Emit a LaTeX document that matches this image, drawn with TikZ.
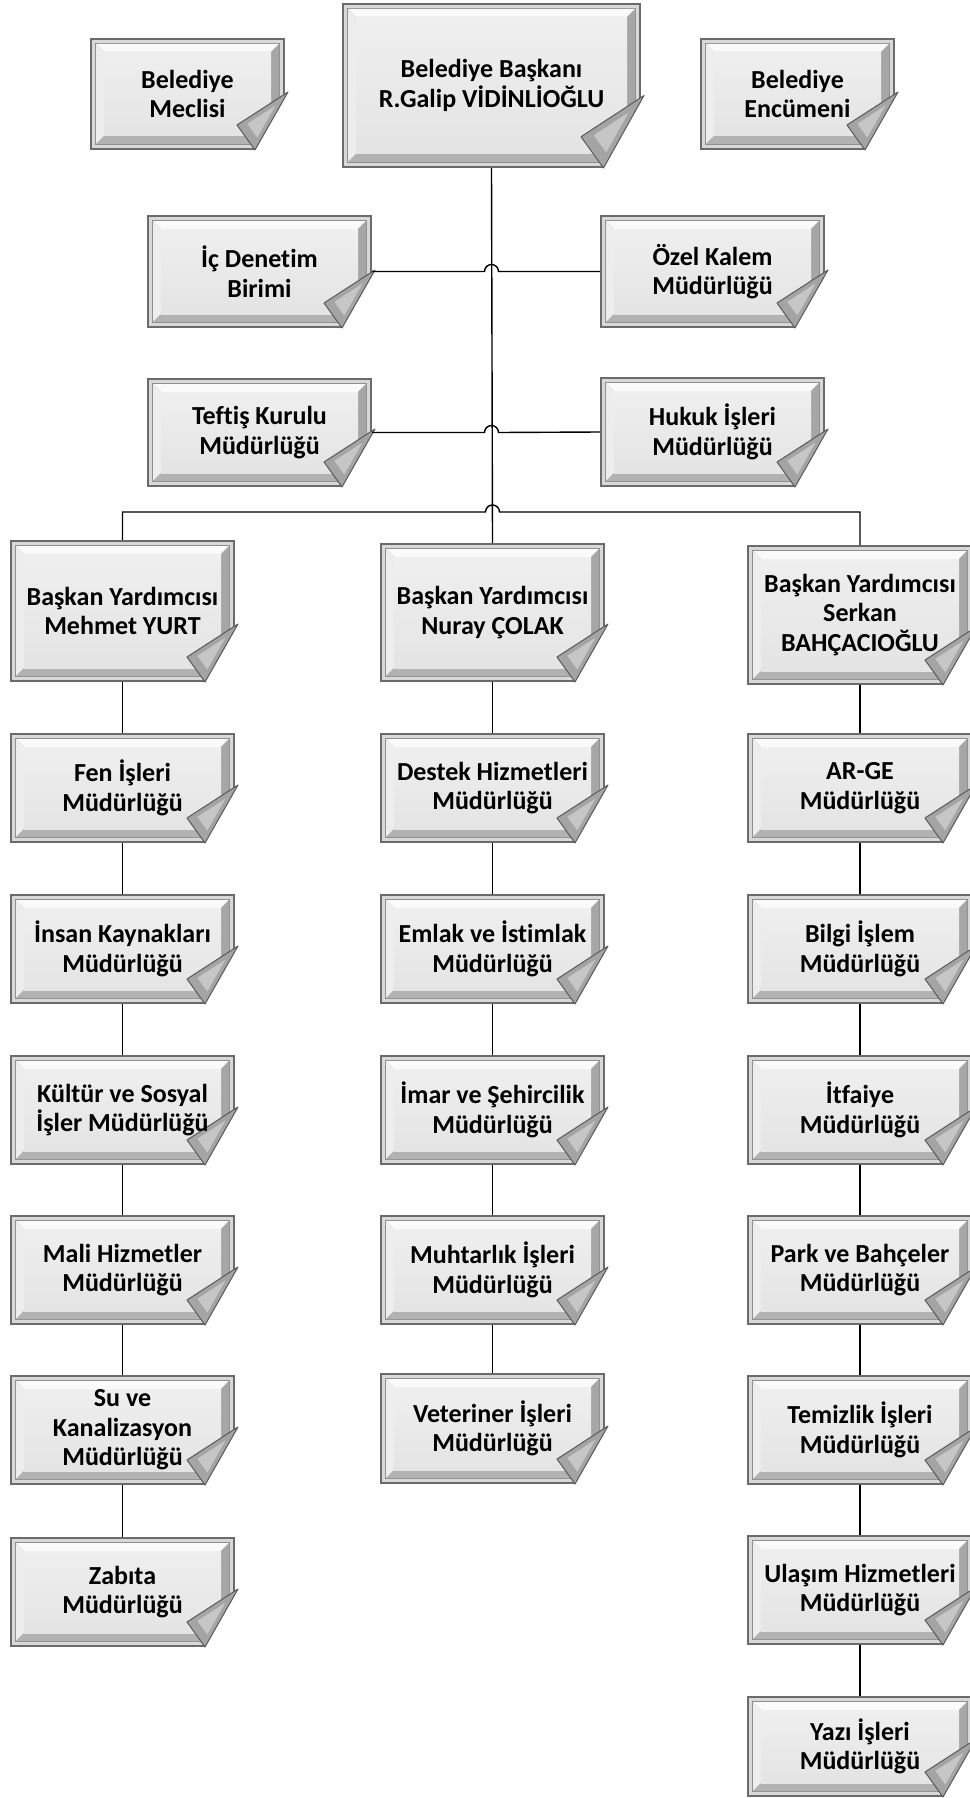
\documentclass[tikz,border=0pt]{standalone}
\usepackage{fontspec}
\setmainfont[Ligatures=NoCommon,RawFeature={-liga;-dlig;-clig}]{Carlito}
\usetikzlibrary{calc}
\definecolor{bdrc}{HTML}{6B6B6B}
\definecolor{bandc}{HTML}{D8D8D8}
\definecolor{linec}{HTML}{8F8F8F}
\definecolor{bevtopc}{HTML}{FAFAFA}
\definecolor{bevleftc}{HTML}{EDEDED}
\definecolor{bevbotc}{HTML}{B2B2B2}
\definecolor{bevrightc}{HTML}{A6A6A6}
\definecolor{facec}{HTML}{E4E4E4}
\definecolor{foldc}{HTML}{A4A4A4}
\definecolor{foldin}{HTML}{C6C6C6}
\definecolor{folddraw}{HTML}{5A5A5A}
\tikzset{
  boxtext/.style={draw=none,inner sep=0pt,align=center,text=black,
    font=\fontsize{26}{29.5}\selectfont\bfseries},
  conn/.style={draw=black,line width=1.4pt},
}
\newcommand{\orgbox}[7][1]{%
\pgfmathsetmacro\bxL{#3}%
\pgfmathsetmacro\bxT{#4}%
\pgfmathsetmacro\bxR{#5}%
\pgfmathsetmacro\bxB{#6}%
\pgfmathsetmacro\bxS{#1}%
\pgfmathsetmacro\bxW{#5-#3}%
\pgfmathsetmacro\bxH{#6-#4}%
\pgfmathsetmacro\bxCx{(#3+#5)/2}%
\pgfmathsetmacro\bxCy{(#4+#6)/2}%
\fill[bdrc] (\bxL,\bxT) rectangle (\bxR,\bxB);
\fill[bandc] ({\bxL+2},{\bxT+2}) rectangle ({\bxR-2},{\bxB-2});
\fill[linec] ({\bxL+5},{\bxT+5}) rectangle ({\bxR-5},{\bxB-5});
\fill[bevtopc] ({\bxL+6},{\bxT+6}) -- ({\bxR-6},{\bxT+6}) -- ({\bxR-14},{\bxT+14}) -- ({\bxL+14},{\bxT+14}) -- cycle;
\fill[bevleftc] ({\bxL+6},{\bxT+6}) -- ({\bxL+14},{\bxT+14}) -- ({\bxL+14},{\bxB-14}) -- ({\bxL+6},{\bxB-6}) -- cycle;
\fill[bevbotc] ({\bxL+6},{\bxB-6}) -- ({\bxR-6},{\bxB-6}) -- ({\bxR-14},{\bxB-14}) -- ({\bxL+14},{\bxB-14}) -- cycle;
\fill[bevrightc] ({\bxR-6},{\bxT+6}) -- ({\bxR-6},{\bxB-6}) -- ({\bxR-14},{\bxB-14}) -- ({\bxR-14},{\bxT+14}) -- cycle;
\shade[top color=facec!60!white,bottom color=facec] ({\bxL+14},{\bxT+14}) rectangle ({\bxR-14},{\bxB-14});
\pgfmathsetmacro\tX{\bxR+3}\pgfmathsetmacro\tY{\bxB-58*\bxS}%
\pgfmathsetmacro\iX{\bxR-48*\bxS}\pgfmathsetmacro\iY{\bxB-25*\bxS}%
\pgfmathsetmacro\uX{\bxR-30*\bxS}\pgfmathsetmacro\uY{\bxB}%
\pgfmathsetmacro\gX{(\tX+\iX+\uX)/3}\pgfmathsetmacro\gY{(\tY+\iY+\uY)/3}%
\fill[white] (\tX,\tY) -- ({\bxR+6},{\tY}) -- ({\bxR+6},{\bxB+2}) -- (\uX,{\bxB+2}) -- (\uX,\uY) -- cycle;
\filldraw[fill=foldc,draw=folddraw,line width=1pt,line join=round] (\tX,\tY) -- (\iX,\iY) -- (\uX,\uY) -- cycle;
\fill[foldin] ({\gX+0.55*(\tX-\gX)},{\gY+0.55*(\tY-\gY)}) -- ({\gX+0.55*(\iX-\gX)},{\gY+0.55*(\iY-\gY)}) -- ({\gX+0.55*(\uX-\gX)},{\gY+0.55*(\uY-\gY)}) -- cycle;
\node[boxtext,minimum width=\bxW pt,minimum height=\bxH pt] (#2) at (\bxCx,\bxCy) {#7};
}
\begin{document}
\begin{tikzpicture}[x=1pt,y=-1pt]
\useasboundingbox (0,0) rectangle (969,1798);
% top level
\orgbox[1.25]{bb}{342}{3}{641}{168}{Belediye Başkanı\\R.Galip VİDİNLİOĞLU}
\orgbox{mec}{90}{38}{285}{150}{Belediye\\Meclisi}
\orgbox{enc}{700}{38}{895}{150}{Belediye\\Encümeni}
\orgbox{ic}{147}{215}{372}{328}{İç Denetim\\Birimi}
\orgbox{oz}{600}{215}{825}{328}{Özel Kalem\\Müdürlüğü}
\orgbox{tef}{147}{378}{372}{487}{Teftiş Kurulu\\Müdürlüğü}
\orgbox{huk}{600}{377}{825}{487}{Hukuk İşleri\\Müdürlüğü}
% deputies
\orgbox{mh}{10}{540}{235}{682}{Başkan Yardımcısı\\Mehmet YURT}
\orgbox{nu}{380}{543}{605}{682}{Başkan Yardımcısı\\Nuray ÇOLAK}
\orgbox{sk}{747}{545}{973}{685}{Başkan Yardımcısı\\Serkan\\BAHÇACIOĞLU}
% column 1
\orgbox{c1a}{10}{733}{235}{843}{Fen İşleri\\Müdürlüğü}
\orgbox{c1b}{10}{894}{235}{1004}{İnsan Kaynakları\\Müdürlüğü}
\orgbox{c1c}{10}{1055}{235}{1165}{Kültür ve Sosyal\\İşler Müdürlüğü}
\orgbox{c1d}{10}{1215}{235}{1325}{Mali Hizmetler\\Müdürlüğü}
\orgbox{c1e}{10}{1375}{235}{1485}{Su ve\\Kanalizasyon\\Müdürlüğü}
\orgbox{c1f}{10}{1537}{235}{1647}{Zabıta\\Müdürlüğü}
% column 2
\orgbox{c2a}{380}{733}{605}{843}{Destek Hizmetleri\\Müdürlüğü}
\orgbox{c2b}{380}{894}{605}{1004}{Emlak ve İstimlak\\Müdürlüğü}
\orgbox{c2c}{380}{1055}{605}{1165}{İmar ve Şehircilik\\Müdürlüğü}
\orgbox{c2d}{380}{1215}{605}{1325}{Muhtarlık İşleri\\Müdürlüğü}
\orgbox{c2e}{380}{1373}{605}{1484}{Veteriner İşleri\\Müdürlüğü}
% column 3
\orgbox{c3a}{747}{733}{973}{843}{AR-GE\\Müdürlüğü}
\orgbox{c3b}{747}{894}{973}{1004}{Bilgi İşlem\\Müdürlüğü}
\orgbox{c3c}{747}{1055}{973}{1165}{İtfaiye\\Müdürlüğü}
\orgbox{c3d}{747}{1215}{973}{1325}{Park ve Bahçeler\\Müdürlüğü}
\orgbox{c3e}{747}{1375}{973}{1485}{Temizlik İşleri\\Müdürlüğü}
\orgbox{c3f}{747}{1535}{973}{1645}{Ulaşım Hizmetleri\\Müdürlüğü}
\orgbox{c3g}{747}{1696}{973}{1797}{Yazı İşleri\\Müdürlüğü}
% connectors
\coordinate (busy) at (492.5,512);
\draw[conn] (bb.south) -- (nu.north);
\draw[conn] (ic.east) -- ($(bb.south |- ic.east)+(-7,0)$) arc[start angle=180,end angle=0,radius=7pt] -- (oz.west);
\draw[conn] (tef.east) -- ($(bb.south |- tef.east)+(-7,0)$) arc[start angle=180,end angle=0,radius=7pt] -- (huk.west);
\draw[conn] (mh.north) -- (mh.north |- busy) -- ($(busy)+(-7,0)$) arc[start angle=180,end angle=0,radius=7pt] -- (sk.north |- busy) -- (sk.north);
\draw[conn] (mh.south) -- (c1a.north);
\draw[conn] (c1a.south) -- (c1b.north);
\draw[conn] (c1b.south) -- (c1c.north);
\draw[conn] (c1c.south) -- (c1d.north);
\draw[conn] (c1d.south) -- (c1e.north);
\draw[conn] (c1e.south) -- (c1f.north);
\draw[conn] (nu.south) -- (c2a.north);
\draw[conn] (c2a.south) -- (c2b.north);
\draw[conn] (c2b.south) -- (c2c.north);
\draw[conn] (c2c.south) -- (c2d.north);
\draw[conn] (c2d.south) -- (c2e.north);
\draw[conn] (sk.south) -- (c3a.north);
\draw[conn] (c3a.south) -- (c3b.north);
\draw[conn] (c3b.south) -- (c3c.north);
\draw[conn] (c3c.south) -- (c3d.north);
\draw[conn] (c3d.south) -- (c3e.north);
\draw[conn] (c3e.south) -- (c3f.north);
\draw[conn] (c3f.south) -- (c3g.north);
\end{tikzpicture}
\end{document}
